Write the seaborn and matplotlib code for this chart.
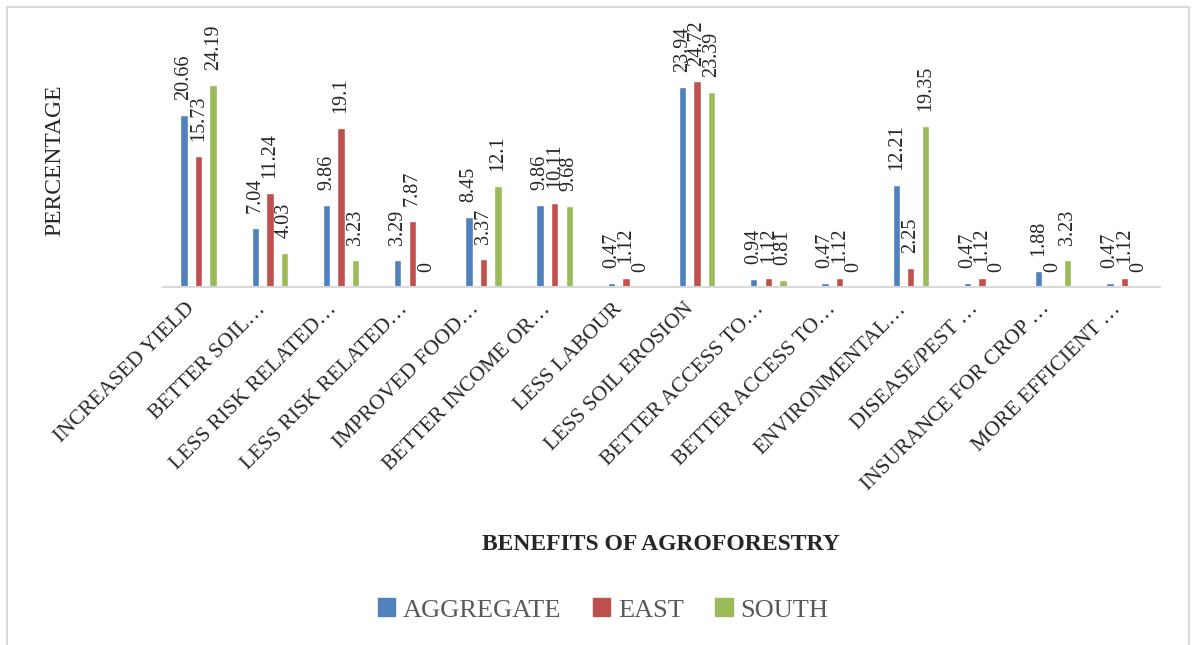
import numpy as np
import pandas as pd
import matplotlib
matplotlib.use("Agg")
import matplotlib.pyplot as plt
from matplotlib.patches import Rectangle
import seaborn as sns

# datos
categorias = ["INCREASED YIELD", "BETTER SOIL…", "LESS RISK RELATED…",
              "LESS RISK RELATED…", "IMPROVED FOOD…", "BETTER INCOME OR…",
              "LESS LABOUR", "LESS SOIL EROSION", "BETTER ACCESS TO…",
              "BETTER ACCESS TO…", "ENVIRONMENTAL…", "DISEASE/PEST …",
              "INSURANCE FOR CROP …", "MORE EFFICIENT …"]
aggregate = [20.66, 7.04, 9.86, 3.29, 8.45, 9.86, 0.47, 23.94, 0.94, 0.47, 12.21, 0.47, 1.88, 0.47]
east = [15.73, 11.24, 19.1, 7.87, 3.37, 10.11, 1.12, 24.72, 1.12, 1.12, 2.25, 1.12, 0, 1.12]
south = [24.19, 4.03, 3.23, 0, 12.1, 9.68, 0, 23.39, 0.81, 0, 19.35, 0, 3.23, 0]
series = ["AGGREGATE", "EAST", "SOUTH"]
colores = ["#4F81BD", "#C0504D", "#9BBB59"]

# claves únicas para que las categorías repetidas no se junten
keys = [f"c{i}" for i in range(len(categorias))]
df = pd.DataFrame({
    "key": keys * 3,
    "serie": np.repeat(series, len(categorias)),
    "valor": aggregate + east + south,
})

sns.set_style("white")
plt.rcParams["font.family"] = ["Liberation Serif", "DejaVu Serif"]

fig = plt.figure(figsize=(11.96, 6.45), dpi=100)
ax = fig.add_axes([163 / 1196, 1 - 287 / 645, (1160 - 163) / 1196, (287 - 37) / 645])

sns.barplot(data=df, x="key", y="valor", hue="serie", order=keys,
            hue_order=series, palette=colores, width=0.612, gap=0.49,
            saturation=1, legend=False, ax=ax)

ax.set_ylim(0, 30)
ax.set_xlim(-0.5, len(categorias) - 0.5)

# etiquetas de valores
for cont in ax.containers:
    for bar in cont:
        h = bar.get_height()
        ax.annotate(f"{h:g}", (bar.get_x() + bar.get_width() / 2, h),
                    xytext=(0, 15), textcoords="offset pixels",
                    rotation=90, ha="center", va="bottom", fontsize=14.5)

ax.set_xticks(range(len(categorias)))
ax.set_xticklabels(categorias, rotation=45, ha="right", fontsize=15.5)
ax.tick_params(axis="x", length=0, pad=9)
ax.set_yticks([])
ax.set_xlabel("")
ax.set_ylabel("")
for s in ["top", "left", "right"]:
    ax.spines[s].set_visible(False)
ax.spines["bottom"].set_color("#d9d9d9")
ax.spines["bottom"].set_linewidth(1.5)

fig.text(55 / 1196, 1 - 160 / 645, "PERCENTAGE", rotation=90, ha="center",
         va="center", fontsize=17)
fig.text(661 / 1196, 1 - 545 / 645, "BENEFITS OF AGROFORESTRY", ha="center",
         va="center", fontsize=17, fontweight="bold")

handles = [Rectangle((0, 0), 1, 1, color=c) for c in colores]
fig.legend(handles, series, loc="center", bbox_to_anchor=(603 / 1196, 1 - 610 / 645),
           ncol=3, frameon=False, fontsize=19, handlelength=0.65, handleheight=0.65,
           handletextpad=0.3, columnspacing=1.2, labelcolor="#595959")

# marco del gráfico
fig.patches.append(Rectangle((7 / 1196, -0.1), (1189 - 7) / 1196, 1.1 - 7 / 645,
                             transform=fig.transFigure, fill=False,
                             edgecolor="#d9d9d9", linewidth=1.5))

fig.savefig("out.png", dpi=100)
